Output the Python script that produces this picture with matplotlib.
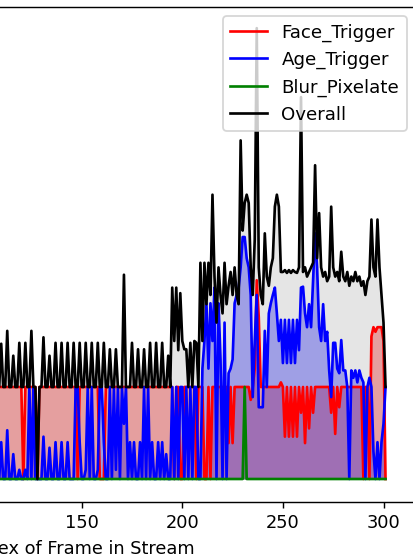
import matplotlib
matplotlib.use("Agg")
import matplotlib.pyplot as plt

# frame indices visible in the crop
frames = list(range(108, 302))

face_trigger = [
    100,100,100,100,100,100,100,100,100,100,   # 108-117
    100,100,100,0,100,100,100,100,100,100,     # 118-127
    0,100,100,100,100,100,100,100,100,100,     # 128-137
    100,100,100,100,100,100,100,100,100,100,   # 138-147
    0,100,100,100,100,100,100,100,100,100,     # 148-157
    100,0,0,0,100,100,100,100,100,100,         # 158-167
    100,100,100,100,100,100,100,100,100,100,   # 168-177
    100,100,100,100,100,100,100,100,100,100,   # 178-187
    100,100,100,100,100,100,100,100,0,100,     # 188-197
    100,0,0,100,100,100,100,100,100,0,         # 198-207
    100,100,100,0,0,100,0,100,100,100,         # 208-217
    100,100,100,100,100,39,100,39,100,100,     # 218-227
    100,100,100,100,100,100,86,100,120,216,    # 228-237
    176,100,100,100,100,100,100,100,100,100,   # 238-247
    100,105,100,46,100,46,100,46,100,46,       # 248-257
    100,72,100,39,100,55,100,72,100,100,       # 258-267
    100,100,100,100,100,100,72,100,49,100,     # 268-277
    78,100,100,100,100,100,100,100,100,100,    # 278-287
    100,100,0,100,100,0,155,165,160,165,       # 288-297
    165,165,150,0,                             # 298-301
]

age_trigger = [
    0,0,40,0,0,53,0,0,27,0,                    # 108-117
    0,10,0,0,10,0,100,0,100,0,                 # 118-127
    0,0,0,46,0,0,34,0,0,40,                    # 128-137
    0,0,40,0,0,40,0,0,0,100,                   # 138-147
    100,40,0,0,10,100,0,100,0,0,               # 148-157
    10,100,100,40,0,0,100,0,100,10,            # 158-167
    100,0,100,60,100,0,40,0,40,0,              # 168-177
    0,40,0,100,0,100,0,40,0,0,                 # 178-187
    40,0,40,0,27,0,0,100,0,100,                # 188-197
    0,100,100,0,100,0,100,0,100,100,           # 198-207
    0,0,120,150,191,120,191,150,208,0,         # 208-217
    191,130,0,170,0,115,120,130,191,200,       # 218-227
    208,230,263,263,240,230,200,89,150,200,    # 228-237
    78,78,78,161,100,180,191,200,208,180,      # 238-247
    150,173,126,173,126,173,126,173,126,173,   # 248-257
    140,208,209,180,165,190,165,216,267,230,   # 258-267
    165,150,190,150,160,118,89,148,148,120,    # 268-277
    115,151,118,118,100,0,118,110,118,105,     # 278-287
    118,110,105,0,100,110,100,30,0,40,         # 288-297
    0,40,60,100,                               # 298-301
]

blur_pixelate = [
    0,0,0,0,0,0,0,0,0,0,                       # 108-117
    0,0,0,0,0,0,0,0,0,0,                       # 118-127
    0,0,0,0,0,0,0,0,0,0,                       # 128-137
    0,0,0,0,0,0,0,0,0,0,                       # 138-147
    0,0,0,0,0,0,0,0,0,0,                       # 148-157
    0,0,0,0,0,0,0,0,0,0,                       # 158-167
    0,0,0,0,0,0,0,0,0,0,                       # 168-177
    0,0,0,0,0,0,0,0,0,0,                       # 178-187
    0,0,0,0,0,0,0,0,0,0,                       # 188-197
    0,0,0,0,0,0,0,0,0,0,                       # 198-207
    0,0,0,0,0,0,0,0,0,0,                       # 208-217
    0,0,0,0,0,0,0,0,0,0,                       # 218-227
    0,0,0,100,0,0,0,0,0,0,                     # 228-237
    0,0,0,0,0,0,0,0,0,0,                       # 238-247
    0,0,0,0,0,0,0,0,0,0,                       # 248-257
    0,0,0,0,0,0,0,0,0,0,                       # 258-267
    0,0,0,0,0,0,0,0,0,0,                       # 268-277
    0,0,0,0,0,0,0,0,0,0,                       # 278-287
    0,0,0,0,0,0,0,0,0,0,                       # 288-297
    0,0,0,0,                                   # 298-301
]

overall = [
    100,100,147,100,100,161,100,100,134,100,   # 108-117
    100,148,100,100,148,100,100,161,100,100,   # 118-127
    0,100,100,154,100,100,134,100,100,148,     # 128-137
    100,100,148,100,100,148,100,100,148,100,   # 138-147
    100,148,100,100,148,100,100,148,100,100,   # 148-157
    148,100,100,148,100,100,141,100,100,141,   # 158-167
    100,100,100,222,100,100,100,148,100,100,   # 168-177
    141,100,100,141,100,100,148,100,100,148,   # 178-187
    100,100,148,100,100,134,100,208,150,208,   # 188-197
    140,202,150,141,141,100,148,100,150,148,   # 198-207
    100,235,150,235,190,235,200,309,220,170,   # 208-217
    230,200,180,235,190,210,225,200,230,200,   # 218-227
    190,368,270,300,309,300,230,200,260,490,   # 228-237
    230,200,190,267,220,210,230,240,296,309,   # 238-247
    296,225,225,227,224,227,224,227,225,224,   # 248-257
    230,415,225,230,220,225,230,235,341,240,   # 258-267
    289,230,220,225,215,220,296,230,220,225,   # 268-277
    215,247,220,215,225,210,220,215,225,215,   # 278-287
    220,210,215,200,215,220,282,230,220,282,   # 288-297
    230,200,170,100,                           # 298-301
]

series = [
    ("Face_Trigger", face_trigger, "red", 0.3),
    ("Age_Trigger", age_trigger, "blue", 0.3),
    ("Blur_Pixelate", blur_pixelate, "green", 0.3),
    ("Overall", overall, "black", 0.1),
]

DPI = 128
W, H = 413, 559
fig = plt.figure(figsize=(W / DPI, H / DPI), dpi=DPI)
ax = fig.add_axes([-250.3 / W, 57 / H, 666.0 / W, 495 / H])

for name, vals, col, a in series:
    ax.plot(frames, vals, color=col, label=name, linewidth=1.5)
    ax.fill_between(frames, vals, color=col, alpha=a, linewidth=0)

ax.set_xlim(-15, 316)
ax.set_ylim(-25, 513)
ax.set_xlabel("Index of Frame in Stream")
ax.set_ylabel("Time (ms)")
ax.set_title("Time Spent in Stages vs Index")
ax.legend(loc="upper right", fontsize=10.3)

fig.savefig("out.png", dpi=DPI)
